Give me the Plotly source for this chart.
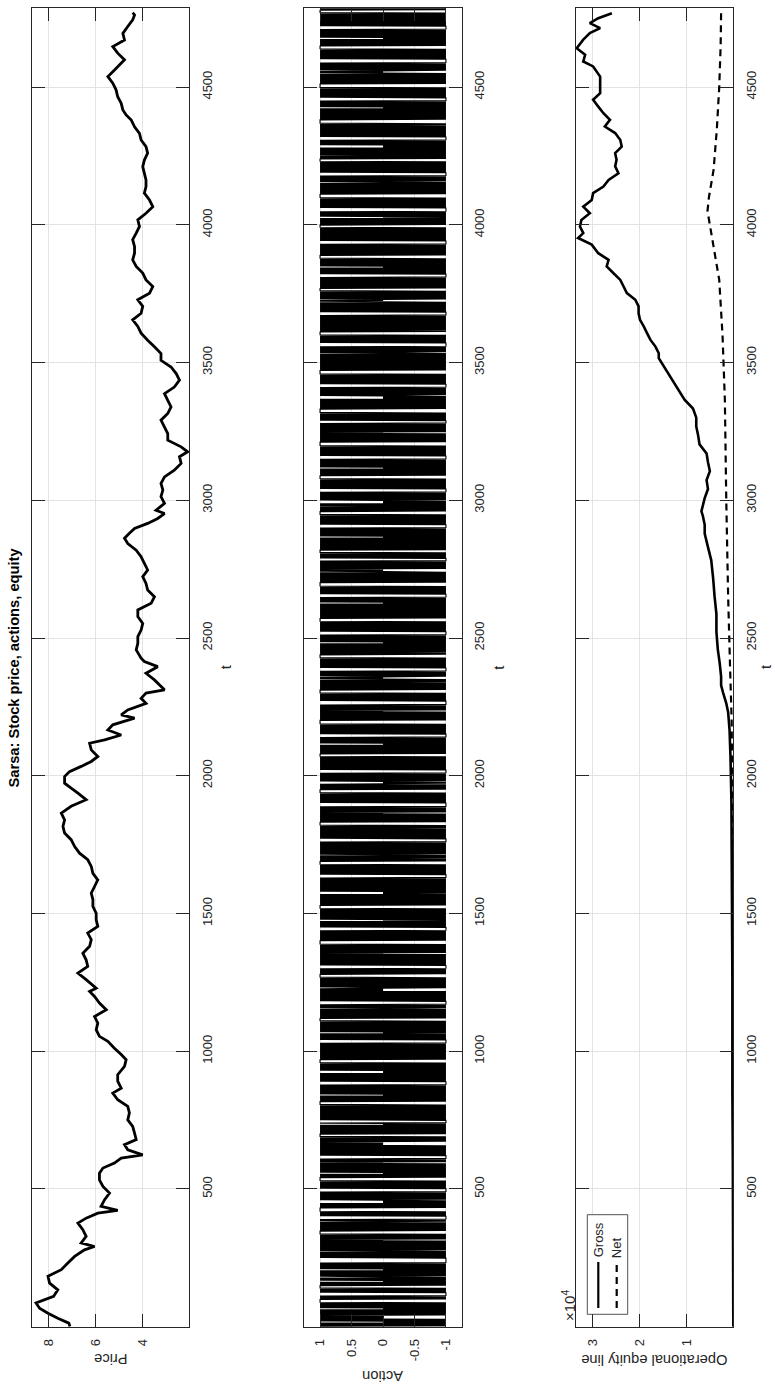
import plotly.graph_objects as go

W, H = 775, 1388
FONT = "Liberation Sans, Arial, Helvetica, sans-serif"
AX = "#262626"
GRID = "#e3e3e3"

# ---------------- data ----------------
price_t = [1, 13, 31, 49, 67, 86, 110, 134, 158, 183, 207, 231, 255, 279, 291, 304, 328, 352, 376, 394,
           412, 422, 437, 461, 485, 509, 533, 557, 576, 594, 612, 624, 642, 661, 679, 703, 727, 751, 776,
           800, 824, 848, 866, 891, 915, 945, 969, 988, 1011, 1036, 1054, 1078, 1102, 1126, 1151, 1175,
           1199, 1217, 1229, 1260, 1284, 1308, 1332, 1356, 1381, 1405, 1429, 1453, 1477, 1501, 1526, 1550,
           1574, 1598, 1622, 1646, 1671, 1695, 1719, 1743, 1768, 1792, 1816, 1840, 1864, 1889, 1913, 1937,
           1955, 1973, 1997, 2015, 2034, 2052, 2070, 2094, 2118, 2130, 2148, 2166, 2185, 2209, 2221, 2239,
           2263, 2281, 2300, 2312, 2330, 2348, 2372, 2396, 2415, 2427, 2457, 2481, 2505, 2529, 2553, 2578,
           2602, 2626, 2650, 2674, 2698, 2723, 2747, 2771, 2795, 2819, 2843, 2862, 2880, 2898, 2916, 2934,
           2952, 2964, 2989, 3013, 3037, 3061, 3085, 3109, 3134, 3158, 3176, 3194, 3218, 3242, 3266, 3291,
           3315, 3339, 3363, 3387, 3411, 3436, 3460, 3484, 3508, 3533, 3557, 3581, 3607, 3631, 3655, 3679,
           3704, 3728, 3752, 3776, 3800, 3825, 3849, 3873, 3897, 3921, 3946, 3970, 3994, 4018, 4042, 4066,
           4090, 4115, 4139, 4163, 4187, 4211, 4235, 4260, 4284, 4308, 4332, 4356, 4380, 4399, 4417, 4441,
           4465, 4490, 4514, 4538, 4556, 4574, 4599, 4623, 4647, 4671, 4695, 4720, 4744, 4762, 4770]
price_v = [7.1, 7.15, 7.62, 8.04, 8.4, 8.55, 7.8, 7.62, 7.97, 8.04, 7.47, 7.19, 6.9, 6.48, 6.05, 6.62, 6.41,
           6.55, 6.76, 6.41, 5.91, 5.06, 5.77, 5.62, 5.41, 5.69, 5.84, 5.84, 5.69, 5.2, 4.91, 3.99, 4.63,
           4.77, 4.27, 4.34, 4.42, 4.63, 4.56, 4.63, 5.06, 5.27, 4.91, 5.06, 5.06, 4.77, 4.7, 4.91, 5.2,
           5.48, 5.84, 5.98, 5.91, 6.05, 5.55, 5.84, 6.05, 6.26, 5.98, 6.41, 6.76, 6.34, 6.41, 6.55, 6.26,
           6.19, 6.34, 5.91, 5.98, 5.98, 6.12, 6.12, 6.19, 6.05, 5.91, 6.12, 6.19, 6.34, 6.69, 6.9, 7.05,
           7.33, 7.4, 7.33, 7.47, 7.05, 6.41, 6.76, 7.05, 7.33, 7.33, 7.12, 6.62, 6.19, 5.91, 6.19, 6.26,
           5.62, 4.91, 5.48, 5.27, 4.34, 4.91, 4.63, 3.85, 4.06, 3.85, 3.06, 3.28, 3.49, 3.85, 3.35, 3.92,
           4.06, 4.27, 4.2, 4.2, 4.06, 3.99, 4.2, 4.2, 3.63, 3.49, 3.78, 3.85, 3.99, 3.78, 3.92, 4.06, 4.27,
           4.63, 4.77, 4.56, 4.34, 3.78, 3.35, 3.06, 3.42, 3.06, 3.21, 3.13, 3.21, 3.06, 2.64, 2.35, 2.42,
           2.07, 2.35, 2.92, 2.92, 3.06, 3.21, 2.92, 2.78, 2.92, 3.06, 2.64, 2.42, 2.56, 2.78, 3.21, 3.21,
           3.49, 3.78, 4.06, 4.2, 4.42, 4.06, 3.99, 4.2, 3.7, 3.56, 3.85, 3.99, 4.27, 4.42, 4.34, 4.34, 4.42,
           4.27, 4.13, 4.2, 3.85, 3.56, 3.7, 3.92, 3.85, 3.85, 3.92, 3.99, 3.92, 3.78, 3.85, 4.06, 4.13,
           4.34, 4.48, 4.7, 4.84, 4.91, 5.06, 5.13, 5.27, 5.48, 5.27, 5.06, 4.77, 5.06, 5.27, 4.77, 4.84,
           4.63, 4.42, 4.34, 4.42]

# actions: p = +1, z = 0, m = -1 ; one symbol every 2 time steps
action_codes = [
    "pmpmp mpmzm pmpmp zpzpz pmpmp mpmpm pmzmp mpmpm pmpmp ppppp",
    "mpmpm pmmmm mmpmp mpmpm ppppp mpmpm pmzmp mpmpm zpmpm pmpmp",
    "mpmzm pmpmp mpmpm pmmmm mmmmm pmpmp mpmpm pmzpm pmpmp mpmpm",
    "pmpmp mpzpm pmpmp mpmpp ppppm pmpmp mpmpm pmpmp zmpmp mmmmm",
    "mpmpm pmpmp ppppp pmpmp mpmpm zmzmz pmpmp mpmpm pmpmp mmmmm",
    "mpmpm pmpmp mpmpm ppppp pmpmp mpmzm pmpmp mpmpm pmpmp mpzpm",
    "pmpmp mmmmm mpmpm pmpmp mpmpm pmpmp zpzpz pmpmp mpmpm ppppp",
    "mpmpm pmpmp mpmpm pmzmp mmmmm pmpmp mpmpm pmpmp mpmpm pmpmp",
    "mpmpp ppppm pmpmp mpmpm zmpmp mpmpm pmpmp mpmpm mmmmm pmpmp",
    "mpmpm pmpmp mzmzm pmpmp mpmpm pmpmp ppppp mpmpm pmpmp mpmpm",
    "pmpmp mpmpm pmpmp mmmmm mpmpm pmpmp mpmzm pmpmp mpmpm pmpmp",
    "mpmpm ppppp mpmpm pmpmp mpmpm pmzpm pmpmp mmmmm mpmpm pmpmp",
    "mpmpm pmpmp zpzpz mpmpm pmpmp mpmpm pmpmp ppppp mpmpm pmpmp",
    "mmmmm mpmpm pmpmp mpmpm pmpmp mpzpm pmpmp mpmpm pmpmp ppppp",
    "pmpmp mpmpm pmpmp mpmpm mmmmm pmpmp mpmpm pmzmp mpmpm pmpmp",
    "mpmpm pmpmp ppppp mpmpm pmpmp mpmpm pmpmp mzmzm pmpmp mpmpm",
    "pmpmp mpmpm pmpmp mmmmm mpmpm pmpmp mpmpm pmpmp ppppp mpmpm",
    "pmpmp mzpmp mpmpm pmpmp mpmpm pmpmp mmmmm mpmpm pmpmp mpmpm",
    "pmpmp mpmpm ppppp pmpmp mpmpm pmpmp mpzpm pmpmp mpmpm mmmmm",
    "mpmpm pmpmp mpmpm pmpmp ppppp mpmpm pmpmp zmzmz pmpmp mpmpm",
    "pmpmp mmmmm mpmpm pmpmp mpmpm pmpmp mpmpm ppppp mpmpm pmpmp",
    "mpmpm pmzmp mpmpm pmpmp mmmmm mpmpm pmpmp mpmpm pmpmp ppppp",
    "pmpmp mpmpm pmpmp mpzpm pmpmp mpmpm mmmmm mpmpm pmpmp mpmpm",
    "ppppp pmpmp mpmpm pmpmp mpmpm zpzpz mpmpm pmpmp mmmmm mpmpm",
    "pmpmp mpmpm pmpmp ppppp mpmpm pmpmp mpmpm pmpmp mzmpm pmpmp",
    "mpmpm pmmmm mmpmp mpmpm pmpmp mpmpm ppppp pmpmp mpmpm pmpmp",
    "mpmpm pmpmp mpmzm pmpmp mpmpm mmmmm pmpmp mpmpm pmpmp ppppp",
    "pmpmp mpmpm pmpmp mpmpm zpzpz pmpmp mpmpm pmpmp mmmmm pmpmp",
    "mpmpm ppppp mpmpm pmpmp mpmpm pmpmp mpmzm pmpmp mpmpm pmpmp",
    "mmmmm mpmpm pmpmp mpmpm pmpmp ppppp mpmpm pmpmp mpmpm zmzmz",
    "pmpmp mpmpm pmpmp mmmmm mpmpm pmpmp mpmpm pmpmp ppppp mpmpm",
    "pmpmp mpmzm pmpmp mpmpm pmpmp mmmmm mpmpm pmpmp mpmpm pmpmp",
    "ppppp pmpmp mpmpm pmpmp mpzpm pmpmp mpmpm pmpmp mmmmm pmpmp",
    "mpmpm pmpmp ppppp pmpmp mpmpm pmpmp mpmpm zmzmz pmpmp mpmpm",
    "pmpmp mmmmm mpmpm pmpmp mpmpm pmpmp ppppp pmpmp mpmpm pmpmp",
    "mpmpm pmpmp mpmpm pmzpm pmpmp mpmpm mmmmm mpmpm pmpmp mpmpm",
    "ppppp pmpmp mpmpm pmpmp mpmpm pmpmp mpmpm pmmmm mmpmp mpmpm",
    "pmpmp mpmpm zpzpz mpmpm pmpmp mpmpm ppppp mpmpm pmpmp mpmpm",
    "pmpmp mmmmm mpmpm pmpmp mpmzm pmpmp mpmpm pmpmp ppppp mpmpm",
    "pmpmp mpmpm pmpmp mmmmm mpmpm pmpmp mpmpm pmpmp mpmpm ppppp",
    "mpmpm pmpmp mpmzm pmpmp mpmpm mmmmm mpmpm pmpmp mpmpm pmpmp",
    "ppppp pmpmp mpmpm pmpmp mpmpm pmzpm pmpmp mpmpm mmmmm pmpmp",
    "mpmpm pmpmp mpmpm ppppp mpmpm pmpmp mpmpm pmpmp mzmzm pmpmp",
    "mpmpm mmmmm pmpmp mpmpm pmpmp mpmpm pmpmp ppppp pmpmp mpmpm",
    "pmpmp mpmpm pmzmp mpmpm pmpmp mmmmm mpmpm pmpmp mpmpm pmpmp",
    "ppppp pmpmp mpmpm pmpmp mpmpm zpzpz mpmpm pmpmp mpmpm mmmmm",
    "mpmpm pmpmp mpmpm pmpmp ppppp mpmpm pmpmp mpmzm pmpmp mpmpm",
    "pmpmp mmmmm mpmpm pmpmp mpmpm pmpmp mpmpm ppppp mpmpm pmpmp",
]
ACTION_STEP = 2
action_map = {"p": 1, "z": 0, "m": -1}

gross_t = [1, 300, 600, 853, 1258, 1582, 1906, 2068, 2166, 2231, 2263, 2303, 2328, 2360, 2409, 2458, 2522,
           2587, 2652, 2717, 2782, 2830, 2879, 2911, 2944, 2960, 3008, 3041, 3073, 3106, 3138, 3170, 3203,
           3235, 3268, 3300, 3333, 3365, 3516, 3534, 3558, 3583, 3607, 3631, 3655, 3679, 3704, 3728, 3752,
           3776, 3800, 3825, 3849, 3873, 3897, 3928, 3952, 3970, 3994, 4018, 4042, 4066, 4090, 4115, 4139,
           4163, 4187, 4212, 4236, 4260, 4284, 4308, 4333, 4357, 4381, 4405, 4429, 4454, 4478, 4508, 4538,
           4575, 4593, 4617, 4641, 4672, 4696, 4714, 4732, 4750, 4768]
gross_v = [0, 50, 100, 200, 200, 300, 400, 600, 800, 1100, 1500, 2200, 2600, 2600, 2900, 3300, 3600, 3600,
           4000, 4300, 4700, 5400, 6100, 6100, 6500, 6800, 6100, 5400, 5700, 5000, 5400, 5700, 7200, 7500,
           7900, 7900, 8600, 10400, 15900, 15900, 16600, 17700, 18400, 19100, 19900, 20200, 20200, 20900,
           22700, 23400, 24100, 25600, 27000, 26600, 28800, 30200, 33100, 32000, 32700, 32400, 30600, 32000,
           30200, 29900, 27700, 26600, 24500, 25200, 24900, 25200, 23800, 24100, 25200, 27400, 26300, 27700,
           28800, 29900, 28400, 28400, 28400, 29900, 32000, 31600, 33400, 32000, 30600, 28400, 30600, 28800,
           25900]

net_t = [1, 1000, 1800, 2200, 2400, 2650, 3000, 3365, 3600, 3800, 3950, 4050, 4100, 4200, 4350, 4500, 4650,
         4768]
net_v = [0, 50, 150, 350, 700, 1100, 1500, 1800, 2300, 3000, 4500, 5500, 5200, 4200, 3500, 3000, 2700, 2600]

t_ticks = [500, 1000, 1500, 2000, 2500, 3000, 3500, 4000, 4500]
price_ticks = [4, 6, 8]
action_ticks = [-1, -0.5, 0, 0.5, 1]
action_ticktext = ["-1", "-0.5", "0", "0.5", "1"]
equity_ticks = [10000, 20000, 30000]
equity_ticktext = ["1", "2", "3"]

# build action series
action_str = "".join(c.replace(" ", "") for c in action_codes)
action_v = [action_map[c] for c in action_str]
action_t = [1 + ACTION_STEP * i for i in range(len(action_v))]

# ---------------- layout helpers ----------------
def px(x):
    return x / W

def py(y):
    return 1 - y / H

TOP, BOT = 8.3, 1326.7
panels = [(32.3, 189.3), (304.3, 461.7), (576.0, 733.3)]
ydom = [py(BOT), py(TOP)]

fig = go.Figure()
fig.add_trace(go.Scatter(x=price_v, y=price_t, mode="lines",
                         line=dict(color="black", width=2.8, simplify=False),
                         xaxis="x", yaxis="y", hoverinfo="skip"))
fig.add_trace(go.Scatter(x=action_v, y=action_t, mode="lines",
                         line=dict(color="black", width=1.1, simplify=False),
                         xaxis="x2", yaxis="y2", hoverinfo="skip"))
fig.add_trace(go.Scatter(x=net_v, y=net_t, mode="lines",
                         line=dict(color="black", width=2.2, dash="7px,5px", simplify=False),
                         xaxis="x3", yaxis="y3", hoverinfo="skip"))
fig.add_trace(go.Scatter(x=gross_v, y=gross_t, mode="lines",
                         line=dict(color="black", width=2.6, simplify=False),
                         xaxis="x3", yaxis="y3", hoverinfo="skip"))

tickfont = dict(family=FONT, size=13, color=AX)
common = dict(ticks="inside", ticklen=13, tickwidth=0.8, tickcolor=AX, showline=True, linecolor=AX,
              linewidth=1, mirror="allticks", showgrid=True, gridcolor=GRID, gridwidth=1, zeroline=False,
              tickangle=-90, tickfont=tickfont)

xranges = [[8.71, 2.0], [1.25, -1.25], [33550, 0]]
xtv = [(price_ticks, [str(v) for v in price_ticks]), (action_ticks, action_ticktext),
       (equity_ticks, equity_ticktext)]
names = ["", "2", "3"]
for i, (x0, x1) in enumerate(panels):
    fig.update_layout(**{
        "xaxis" + names[i]: dict(common, domain=[px(x0), px(x1)], anchor="y" + names[i], range=xranges[i],
                                 tickmode="array", tickvals=xtv[i][0], ticktext=xtv[i][1], side="bottom",
                                 ticklabelstandoff=6),
        "yaxis" + names[i]: dict(common, domain=ydom, anchor="x" + names[i], range=[0, 4786], side="right",
                                 tickmode="array", tickvals=t_ticks, ticktext=[str(v) for v in t_ticks],
                                 ticklabelstandoff=6),
    })

ann = []
def A(text, x, y, angle, size=13, bold=False, xanchor="center", yanchor="middle"):
    ann.append(dict(text=("<b>%s</b>" % text) if bold else text, x=px(x), y=py(y), xref="paper",
                    yref="paper", showarrow=False, textangle=angle, xanchor=xanchor, yanchor=yanchor,
                    font=dict(family=FONT, size=size, color="black" if bold else AX)))

A("Sarsa: Stock price, actions, equity", 13, 667.5, -90, size=14.7, bold=True)
A("Price", 110.8, 1359, 180, size=14.7)
A("Action", 383, 1376, 180, size=14.7)
A("Operational equity line", 654.7, 1360, 180, size=14.7)
A("t", 189.3 + 36.5, 667.5, -90, size=14.7)
A("t", 461.7 + 36.5, 667.5, -90, size=14.7)
A("t", 765.5, 667.5, -90, size=14.7)
A("\u00d710<sup>4</sup>", 568, 1306, -90, size=15)
A("Gross", 598.3, 1240, -90, size=13)
A("Net", 616.7, 1247.5, -90, size=13)

shapes = [
    dict(type="rect", xref="paper", yref="paper", x0=px(587.3), x1=px(627.7), y0=py(1314.3), y1=py(1214.7),
         line=dict(color=AX, width=0.8), fillcolor="white", layer="above"),
    dict(type="line", xref="paper", yref="paper", x0=px(598.3), x1=px(598.3), y0=py(1308), y1=py(1262),
         line=dict(color="black", width=2.2), layer="above"),
    dict(type="line", xref="paper", yref="paper", x0=px(616.7), x1=px(616.7), y0=py(1308), y1=py(1262),
         line=dict(color="black", width=2.2, dash="7px,5px"), layer="above"),
]

fig.update_layout(width=W, height=H, margin=dict(l=0, r=0, t=0, b=0), paper_bgcolor="white",
                  plot_bgcolor="white", showlegend=False, annotations=ann, shapes=shapes,
                  font=dict(family=FONT, color=AX))
fig.write_html("out.html")
